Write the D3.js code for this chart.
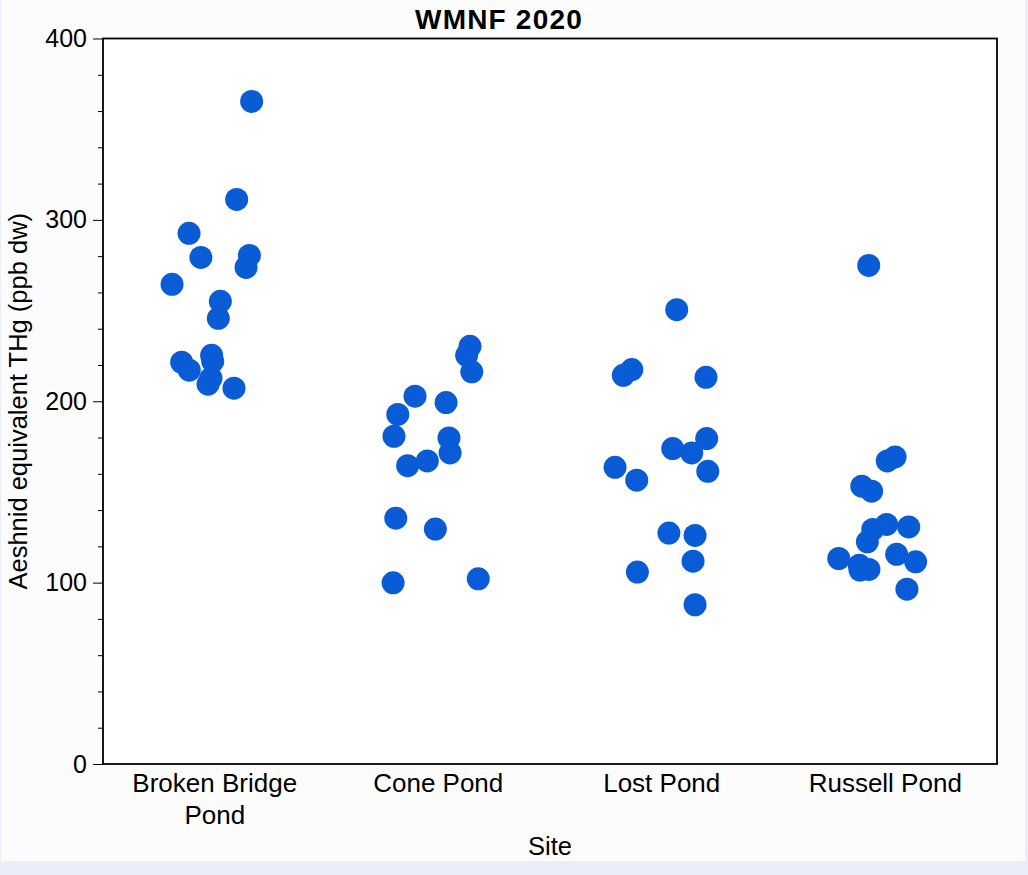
<!DOCTYPE html>
<html lang="en">
<head>
<meta charset="UTF-8">
<title>WMNF 2020</title>
<script src="https://d3js.org/d3.v7.min.js"></script>
<style>
  body { margin: 0; background: #e9eef8; }
  svg text { font-family: "Liberation Sans", Arial, sans-serif; fill: #000; }
</style>
</head>
<body>
<svg id="main" width="1028" height="875"></svg>
<script>
// sites along the x axis
const sites = ['Broken Bridge Pond', 'Cone Pond', 'Lost Pond', 'Russell Pond'];
const siteLines = [['Broken Bridge', 'Pond'], ['Cone Pond'], ['Lost Pond'], ['Russell Pond']];

// THg values, per site
const brokenBridge = [365.3, 311.3, 280.4, 273.8, 292.6, 279.3, 264.5, 255.1, 245.7, 221.5, 217.1, 225.3, 222.0, 212.7, 209.4, 207.2];
const conePond = [230.3, 225.3, 216.2, 202.8, 199.3, 192.7, 180.7, 179.8, 171.5, 167.1, 164.5, 135.5, 129.5, 99.9, 102.1];
const lostPond = [250.5, 217.5, 214.3, 213.2, 179.4, 173.9, 171.5, 161.4, 163.6, 156.5, 127.3, 126.0, 111.8, 105.8, 87.8];
const russellPond = [274.9, 169.3, 167.1, 153.2, 150.4, 132.1, 129.3, 130.7, 122.5, 115.6, 111.5, 113.3, 109.6, 106.9, 107.3, 96.4];

// horizontal jitter, as a fraction of the category width
const brokenBridgeJit = [0.165, 0.098, 0.155, 0.140, -0.115, -0.062, -0.191, 0.025, 0.016, -0.148, -0.114, -0.014, -0.009, -0.017, -0.030, 0.086];
const conePondJit = [0.142, 0.127, 0.150, -0.104, 0.035, -0.181, -0.198, 0.048, 0.053, -0.049, -0.137, -0.190, -0.013, -0.202, 0.179];
const lostPondJit = [0.067, -0.134, -0.172, 0.198, 0.201, 0.049, 0.134, 0.206, -0.209, -0.112, 0.032, 0.149, 0.140, -0.109, 0.149];
const russellPondJit = [-0.074, 0.044, 0.009, -0.105, -0.061, 0.006, -0.056, 0.105, -0.080, 0.051, 0.136, -0.208, -0.116, -0.113, -0.073, 0.097];

const yTicks = [0, 100, 200, 300, 400];
const yMinorTicks = [20, 40, 60, 80, 120, 140, 160, 180, 220, 240, 260, 280, 320, 340, 360, 380];

let svg = d3.select('svg#main');
let plot = {left: 103, right: 997, top: 38.5, bottom: 764};

// page panel
svg.append('rect').attr('x', 1).attr('y', 0).attr('width', 1024).attr('height', 861)
    .attr('fill', '#fcfcfd');
svg.append('rect').attr('x', plot.left).attr('y', plot.top)
    .attr('width', plot.right - plot.left).attr('height', plot.bottom - plot.top)
    .attr('fill', '#ffffff');

let xScale = d3.scaleBand().domain(sites).range([plot.left, plot.right]);
let yScale = d3.scaleLinear().domain([0, 400]).range([plot.bottom, plot.top]);

// build point table
let values = [brokenBridge, conePond, lostPond, russellPond];
let jitters = [brokenBridgeJit, conePondJit, lostPondJit, russellPondJit];
let points = [];
sites.forEach(function (s, i) {
    values[i].forEach(function (v, k) {
        points.push({site: s, value: v, jit: jitters[i][k]});
    });
});

svg.append('g').selectAll('circle')
    .data(points)
    .enter()
    .append('circle')
    .attr('cx', function (d) { return xScale(d.site) + xScale.bandwidth() * (0.5 + d.jit); })
    .attr('cy', function (d) { return yScale(d.value); })
    .attr('r', 11.5)
    .attr('fill', '#095cd6');

// y axis: minor ticks then major ticks with labels
let yMinor = svg.append('g').attr('transform', 'translate(' + plot.left + ',0)')
    .call(d3.axisLeft(yScale).tickValues(yMinorTicks).tickSize(5).tickFormat(''));
yMinor.select('.domain').remove();

let yMajor = svg.append('g').attr('transform', 'translate(' + plot.left + ',0)')
    .call(d3.axisLeft(yScale).tickValues(yTicks).tickSize(10).tickPadding(6));
yMajor.select('.domain').remove();
yMajor.selectAll('text')
    .style('font-size', '25px')
    .style('font-family', '"Liberation Sans", Arial, sans-serif')
    .attr('fill', '#000');
svg.selectAll('.tick line').attr('stroke', '#000').attr('stroke-width', 1);

// frame
svg.append('rect').attr('x', plot.left).attr('y', plot.top)
    .attr('width', plot.right - plot.left).attr('height', plot.bottom - plot.top)
    .attr('fill', 'none').attr('stroke', '#000').attr('stroke-width', 1.8);

// category labels
let xLabels = svg.append('g');
sites.forEach(function (s, i) {
    let t = xLabels.append('text')
        .attr('x', xScale(s) + xScale.bandwidth() / 2)
        .attr('y', 792)
        .attr('text-anchor', 'middle')
        .style('font-size', '26px');
    siteLines[i].forEach(function (line, j) {
        t.append('tspan')
            .attr('x', xScale(s) + xScale.bandwidth() / 2)
            .attr('dy', j === 0 ? 0 : 32)
            .text(line);
    });
});

// titles
svg.append('text').attr('x', 499).attr('y', 29).attr('text-anchor', 'middle')
    .style('font-size', '28px').style('font-weight', 'bold').style('letter-spacing', '1.2px')
    .text('WMNF 2020');
svg.append('text').attr('x', (plot.left + plot.right) / 2).attr('y', 855).attr('text-anchor', 'middle')
    .style('font-size', '25.5px').text('Site');
svg.append('text')
    .attr('transform', 'translate(27,' + ((plot.top + plot.bottom) / 2) + ') rotate(-90)')
    .attr('text-anchor', 'middle')
    .style('font-size', '25.5px')
    .text('Aeshnid equivalent THg (ppb dw)');
</script>
</body>
</html>
